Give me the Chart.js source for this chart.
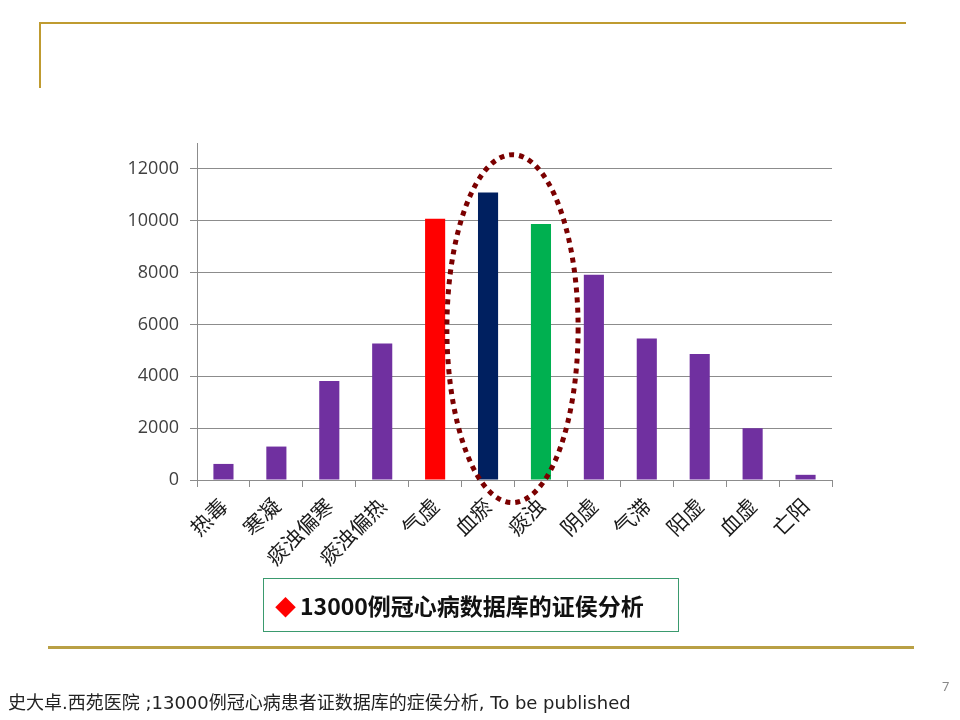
<!DOCTYPE html>
<html>
<head>
<meta charset="utf-8">
<script src="https://cdn.jsdelivr.net/npm/chart.js@4.4.1/dist/chart.umd.min.js"></script>
<style>
  html, body { margin: 0; padding: 0; background: #fff; }
  #page { position: relative; width: 960px; height: 720px; overflow: hidden; }
  #chart { position: absolute; left: 0; top: 0; }
  .gold { position: absolute; background: #bf9b30; }
  #caption {
    position: absolute; left: 263px; top: 578px; width: 416px; height: 54px;
    border: 1px solid #3a9a6e; box-sizing: border-box;
    font-family: "Noto Sans CJK SC", sans-serif; font-weight: bold; font-size: 23px;
    color: #111; line-height: 52px; padding-left: 11px; white-space: nowrap;
  }
  #caption .dia { color: #ff0000; margin-right: 4px; font-size: 21px; }
  #footer {
    position: absolute; left: 8px; top: 688px; white-space: nowrap;
    font-family: "DejaVu Sans", "Noto Sans CJK SC", sans-serif; font-size: 18px; color: #222;
  }
  #pageno {
    position: absolute; left: 942px; top: 677px;
    font-family: "Noto Sans", sans-serif; font-size: 13px; color: #888;
  }
</style>
</head>
<body>
<div id="page">
  <canvas id="chart" width="960" height="720"></canvas>
  <div class="gold" style="left:40px; top:22px; width:866px; height:2px;"></div>
  <div class="gold" style="left:39px; top:22px; width:2px; height:66px;"></div>
  <div class="gold" style="left:48px; top:646px; width:866px; height:3px; background:#b9a045;"></div>
  <div id="caption"><span class="dia">◆</span>13000例冠心病数据库的证侯分析</div>
  <div id="footer">史大卓.西苑医院 ;13000例冠心病患者证数据库的症侯分析, To be published</div>
  <div id="pageno">7</div>
</div>
<script>
// 证候类别和病例数
const syndromes = ['热毒', '寒凝', '痰浊偏寒', '痰浊偏热', '气虚', '血瘀', '痰浊', '阴虚', '气滞', '阳虚', '血虚', '亡阳'];
const cases = [620, 1290, 3820, 5270, 10080, 11090, 9880, 7920, 5460, 4860, 2000, 200];
const barColors = ['#7030a0', '#7030a0', '#7030a0', '#7030a0', '#ff0000', '#002060', '#00b050',
                   '#7030a0', '#7030a0', '#7030a0', '#7030a0', '#7030a0'];
const yTicks = [0, 2000, 4000, 6000, 8000, 10000, 12000];

// 虚线椭圆：圈住血瘀和痰浊
const ringFrom = 5, ringTo = 6;
const ringLow = -870, ringHigh = 12550;

const dottedRing = {
  id: 'dottedRing',
  afterDraw(chart) {
    const { ctx, scales: { x, y } } = chart;
    const step = x.getPixelForValue(1) - x.getPixelForValue(0);
    const cx = (x.getPixelForValue(ringFrom) + x.getPixelForValue(ringTo)) / 2 - 2;
    const top = y.getPixelForValue(ringHigh);
    const bottom = y.getPixelForValue(ringLow);
    ctx.save();
    ctx.strokeStyle = '#7b0000';
    ctx.lineWidth = 5;
    ctx.setLineDash([5, 5]);
    ctx.beginPath();
    ctx.ellipse(cx, (top + bottom) / 2, step * 1.24, (bottom - top) / 2, 0, 0, Math.PI * 2);
    ctx.stroke();
    ctx.restore();
  }
};

const ctx = document.getElementById('chart').getContext('2d');
new Chart(ctx, {
  type: 'bar',
  data: {
    labels: syndromes,
    datasets: [{
      label: '病例数',
      data: cases,
      backgroundColor: barColors,
      categoryPercentage: 1,
      barPercentage: 0.38
    }]
  },
  options: {
    responsive: false,
    animation: false,
    layout: { padding: { left: 100, top: 143, right: 128, bottom: 0 } },
    plugins: {
      legend: { display: false },
      tooltip: { enabled: false }
    },
    scales: {
      x: {
        grid: { offset: true, drawOnChartArea: false, drawTicks: true, tickLength: 7, color: '#8c8c8c' },
        border: { color: '#8c8c8c' },
        ticks: {
          minRotation: 45, maxRotation: 45, padding: 6, autoSkip: false,
          color: '#1a1a1a',
          font: { family: '"Noto Sans CJK SC", sans-serif', size: 21 }
        },
        afterFit(s) { s.height = 240; }
      },
      y: {
        min: 0,
        max: 13000,
        afterBuildTicks(s) { s.ticks = yTicks.map(v => ({ value: v })); },
        grid: { color: '#8c8c8c', tickLength: 7 },
        border: { color: '#8c8c8c' },
        ticks: {
          padding: 11,
          color: '#404040',
          font: { family: '"Open Sans", sans-serif', size: 18 },
          callback: v => String(v)
        },
        afterFit(s) { s.width = 97; }
      }
    }
  },
  plugins: [dottedRing]
});
</script>
</body>
</html>
